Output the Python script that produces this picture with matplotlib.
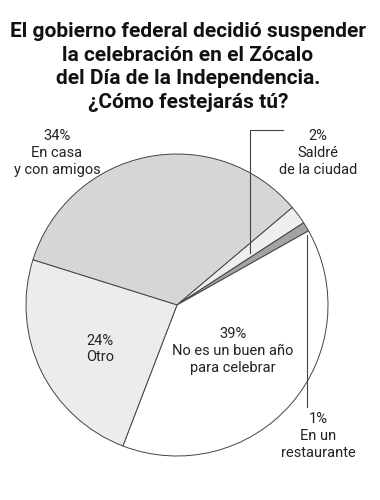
import matplotlib.pyplot as plt

# datos
categorias = ["En casa\ny con amigos", "Saldré\nde la ciudad", "En un\nrestaurante",
              "No es un buen año\npara celebrar", "Otro"]
valores = [34, 2, 1, 39, 24]
colores = ["#d6d6d6", "#efefef", "#a3a3a3", "#ffffff", "#ececec"]

titulo = ("El gobierno federal decidió suspender\nla celebración en el Zócalo\n"
          "del Día de la Independencia.\n¿Cómo festejarás tú?")

plt.rcParams['font.family'] = ['Roboto', 'DejaVu Sans']

fig = plt.figure(figsize=(3.8, 5), dpi=100)
ax = fig.add_axes([0, 0, 1, 1])

H = 500
cx, cy, r = 177, H - 305, 151

ax.pie(valores, colors=colores, startangle=162.6, counterclock=False,
       center=(cx, cy), radius=r, frame=True,
       wedgeprops=dict(edgecolor="#444444", linewidth=0.7))
ax.set_xlim(0, 380)
ax.set_ylim(0, 500)
ax.set_aspect('equal')
ax.axis('off')

ax.text(188, H - 67, titulo, ha='center', va='center', fontsize=15,
        fontweight='bold', linespacing=1.3, color="#111111")

# etiquetas
lab_kw = dict(ha='center', va='center', fontsize=10.5, linespacing=1.25, color="#222222")
ax.text(57, H - 153, f"{valores[0]}%\n{categorias[0]}", **lab_kw)
ax.text(318, H - 153, f"{valores[1]}%\n{categorias[1]}", **lab_kw)
ax.text(318, H - 436, f"{valores[2]}%\n{categorias[2]}", **lab_kw)
ax.text(233, H - 351, f"{valores[3]}%\n{categorias[3]}", **lab_kw)
ax.text(100, H - 349, f"{valores[4]}%\n{categorias[4]}", **lab_kw)

# líneas guía
ax.plot([283, 250, 250], [H - 130, H - 130, H - 253], color="#444444", lw=0.8)
ax.plot([307, 307], [H - 235, H - 407], color="#444444", lw=0.8)

fig.savefig("out.png", dpi=100, facecolor="white")
